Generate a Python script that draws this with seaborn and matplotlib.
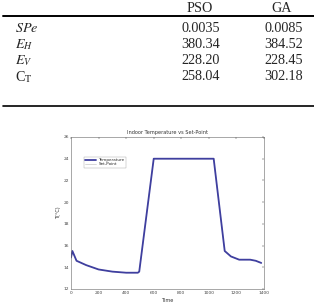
import pandas as pd
import matplotlib.pyplot as plt
import seaborn as sns
from matplotlib.lines import Line2D

# Tabla de resultados
metodos = ["PSO", "GA"]
filas = ["$SPe$", "$E_H$", "$E_V$", "C$_\\mathrm{T}$"]
pso = ["0.0035", "380.34", "228.20", "258.04"]
ga = ["0.0085", "384.52", "228.45", "302.18"]

# Curva de temperatura interior
tiempo = [0, 10, 40, 110, 200, 300, 400, 485, 495, 600, 700, 800, 900, 1035,
          1115, 1160, 1220, 1300, 1340, 1380]
temperatura = [14.9, 15.5, 14.6, 14.2, 13.8, 13.6, 13.5, 13.5, 13.6, 24.0, 24.0,
               24.0, 24.0, 24.0, 15.5, 15.0, 14.7, 14.7, 14.6, 14.4]
consigna = [14.9, 15.5, 14.6, 14.2, 13.8, 13.6, 13.5, 13.5, 13.6, 24.0, 24.0,
            24.0, 24.0, 24.0, 15.5, 15.0, 14.7, 14.7, 14.6, 14.4]

df = pd.DataFrame({"Time": tiempo, "Temperature": temperatura, "Set-Point": consigna})

sns.set_style("white")
plt.rcParams["font.family"] = ["Liberation Serif", "DejaVu Serif"]
plt.rcParams["mathtext.fontset"] = "stix"

fig = plt.figure(figsize=(3.14, 3.08), dpi=100)

# Tabla
fs = 10.2
fig.text(200 / 314, 1 - 9 / 308, metodos[0], ha="center", va="center", fontsize=fs)
fig.text(282 / 314, 1 - 9 / 308, metodos[1], ha="center", va="center", fontsize=fs)
ys = [29, 45, 61, 77]
for nombre, a, b, y in zip(filas, pso, ga, ys):
    yy = 1 - y / 308
    fig.text(15 / 314, yy, nombre, ha="left", va="center", fontsize=fs)
    fig.text(220 / 314, yy, a, ha="right", va="center", fontsize=fs)
    fig.text(303 / 314, yy, b, ha="right", va="center", fontsize=fs)
fig.add_artist(Line2D([3 / 314, 1.0], [1 - 16 / 308] * 2, color="black", lw=1.4))
fig.add_artist(Line2D([3 / 314, 1.0], [1 - 106 / 308] * 2, color="black", lw=1.2))

# Grafico
ax = fig.add_axes([71 / 314, 1 - 289 / 308, 193 / 314, 152 / 308])
sns.lineplot(data=df, x="Time", y="Set-Point", ax=ax, color="#c8c8c8", lw=0.5,
             label="Set-Point")
sns.lineplot(data=df, x="Time", y="Temperature", ax=ax, color="#3f3f9f", lw=1.3,
             label="Temperature")
ax.set_xlim(0, 1400)
ax.set_ylim(12, 26)
ax.set_xticks(range(0, 1401, 200))
ax.set_yticks(range(12, 27, 2))
ax.tick_params(direction="in", length=1.5, width=0.3, labelsize=3.2, pad=1.5,
               top=True, right=True, labelcolor="#444444")
for lbl in ax.get_xticklabels() + ax.get_yticklabels():
    lbl.set_family("DejaVu Sans")
for s in ax.spines.values():
    s.set_linewidth(0.4)
    s.set_color("#666666")
ax.set_title("Indoor Temperature vs Set-Point", fontsize=3.6, pad=2,
             family="DejaVu Sans", color="#333333")
ax.set_xlabel("Time", fontsize=3.6, labelpad=2, family="DejaVu Sans", color="#333333")
ax.set_ylabel("T(°C)", fontsize=3.6, labelpad=2, family="DejaVu Sans", color="#333333")
handles, labels = ax.get_legend_handles_labels()
ax.legend(handles[::-1], labels[::-1], loc="upper left", bbox_to_anchor=(0.055, 0.885),
          frameon=True, fancybox=False, edgecolor="#888888",
          handlelength=2.6, handletextpad=0.6, borderpad=0.35, labelspacing=0.1,
          prop={"family": "DejaVu Sans", "size": 3.0})
ax.get_legend().get_frame().set_linewidth(0.3)

plt.savefig("out.png", dpi=100)
